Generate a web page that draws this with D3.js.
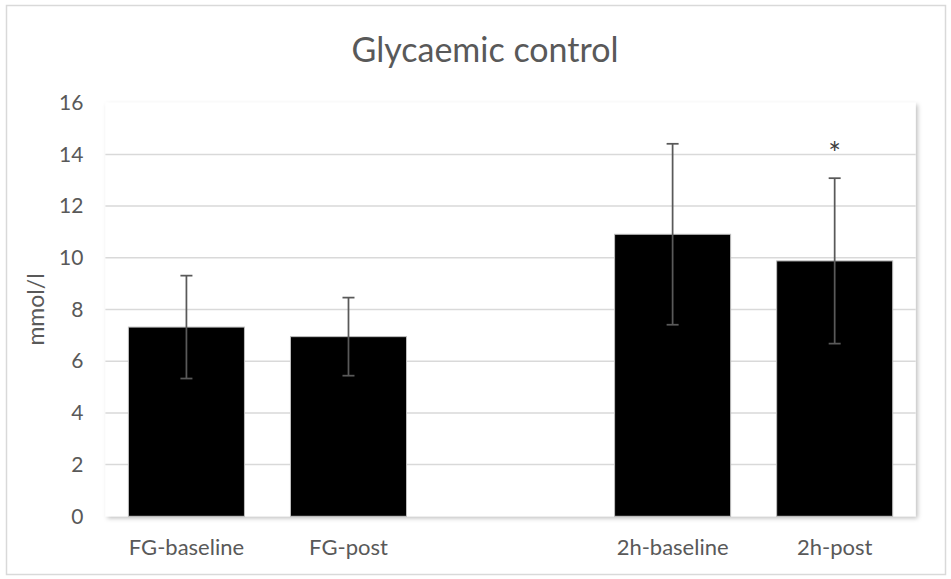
<!DOCTYPE html>
<html>
<head>
<meta charset="utf-8">
<script src="https://cdn.jsdelivr.net/npm/d3@7"></script>
<style>
  body { margin: 0; background: #fff; }
  text { font-family: Lato, "DejaVu Sans", sans-serif; fill: #595959; }
</style>
</head>
<body>
<div id="chart"></div>
<script>
// data
var categories = ["FG-baseline", "FG-post", "", "2h-baseline", "2h-post"];
var means = [7.32, 6.95, null, 10.91, 9.88];
var errors = [1.99, 1.51, null, 3.50, 3.20];
var marks = ["", "", "", "", "*"];
var yTicks = [0, 2, 4, 6, 8, 10, 12, 14, 16];

var W = 951, H = 579;
var margin = {top: 102.7, right: 35.3, bottom: 62.7, left: 105.4};
var width = W - margin.left - margin.right,
    height = H - margin.top - margin.bottom;

var data = categories.map(function(c, i) {
  return {cat: c, mean: means[i], err: errors[i], mark: marks[i]};
});

var svg = d3.select("#chart").append("svg")
  .attr("width", W)
  .attr("height", H);

// outer chart border
svg.append("rect")
  .attr("x", 6.5).attr("y", 5.5)
  .attr("width", W - 12).attr("height", H - 10)
  .attr("fill", "#fff")
  .attr("stroke", "#d9d9d9")
  .attr("stroke-width", 1.5);

var defs = svg.append("defs");
var f = defs.append("filter").attr("id", "shadow")
  .attr("x", "-5%").attr("y", "-5%").attr("width", "115%").attr("height", "115%");
f.append("feDropShadow")
  .attr("dx", 2).attr("dy", 2)
  .attr("stdDeviation", 2)
  .attr("flood-color", "#000")
  .attr("flood-opacity", 0.25);

// title
svg.append("text")
  .attr("x", 485)
  .attr("y", 62)
  .attr("text-anchor", "middle")
  .style("font-size", "34px")
  .text("Glycaemic control");

var g = svg.append("g")
  .attr("transform", "translate(" + margin.left + "," + margin.top + ")");

var x = d3.scaleBand()
  .domain(categories)
  .range([0, width])
  .paddingInner(0.284)
  .paddingOuter(0.142);

var y = d3.scaleLinear()
  .domain([0, 16])
  .range([height, 0]);

// plot area with shadow
g.append("rect")
  .attr("width", width)
  .attr("height", height)
  .attr("fill", "#fff")
  .attr("filter", "url(#shadow)");

// gridlines
g.append("g")
  .selectAll("line")
  .data(yTicks.filter(function(t) { return t > 0 && t < 16; }))
  .enter().append("line")
  .attr("x1", 0).attr("x2", width)
  .attr("y1", function(d) { return y(d); })
  .attr("y2", function(d) { return y(d); })
  .attr("stroke", "#d9d9d9")
  .attr("stroke-width", 1.5);

// y axis
var yAxis = d3.axisLeft(y).tickValues(yTicks).tickSize(0).tickPadding(22);
g.append("g")
  .attr("class", "y axis")
  .call(yAxis)
  .call(function(a) { a.select(".domain").remove(); })
  .selectAll("text")
  .style("font-size", "21px")
  .attr("font-family", null)
  .attr("fill", "#595959");

// x axis
var xAxis = d3.axisBottom(x).tickSize(0).tickPadding(23);
g.append("g")
  .attr("class", "x axis")
  .attr("transform", "translate(0," + height + ")")
  .call(xAxis)
  .call(function(a) { a.select(".domain").remove(); })
  .selectAll("text")
  .style("font-size", "22px")
  .attr("font-family", null)
  .attr("fill", "#595959");

// y axis title
svg.append("text")
  .attr("transform", "translate(44," + (margin.top + height / 2) + ") rotate(-90)")
  .attr("text-anchor", "middle")
  .style("font-size", "23px")
  .text("mmol/l");

var shown = data.filter(function(d) { return d.mean != null; });

// bars
g.selectAll(".bar")
  .data(shown)
  .enter().append("rect")
  .attr("class", "bar")
  .attr("x", function(d) { return x(d.cat); })
  .attr("width", x.bandwidth())
  .attr("y", function(d) { return y(d.mean); })
  .attr("height", function(d) { return height - y(d.mean); })
  .attr("fill", "#000")
  .attr("stroke", "#bfbfbf")
  .attr("stroke-width", 1);

// error bars
var eb = g.selectAll(".err")
  .data(shown)
  .enter().append("g")
  .attr("class", "err")
  .attr("stroke", "#595959")
  .attr("stroke-width", 1.75);

eb.append("line")
  .attr("x1", function(d) { return x(d.cat) + x.bandwidth() / 2; })
  .attr("x2", function(d) { return x(d.cat) + x.bandwidth() / 2; })
  .attr("y1", function(d) { return y(d.mean + d.err); })
  .attr("y2", function(d) { return y(d.mean - d.err); });

[1, -1].forEach(function(s) {
  eb.append("line")
    .attr("x1", function(d) { return x(d.cat) + x.bandwidth() / 2 - 6; })
    .attr("x2", function(d) { return x(d.cat) + x.bandwidth() / 2 + 6; })
    .attr("y1", function(d) { return y(d.mean + s * d.err); })
    .attr("y2", function(d) { return y(d.mean + s * d.err); });
});

// significance marks
g.selectAll(".mark")
  .data(shown.filter(function(d) { return d.mark; }))
  .enter().append("text")
  .attr("class", "mark")
  .attr("x", function(d) { return x(d.cat) + x.bandwidth() / 2; })
  .attr("y", function(d) { return y(d.mean + d.err) - 14; })
  .attr("text-anchor", "middle")
  .style("font-size", "30px")
  .style("fill", "#404040")
  .text(function(d) { return d.mark; });
</script>
</body>
</html>
